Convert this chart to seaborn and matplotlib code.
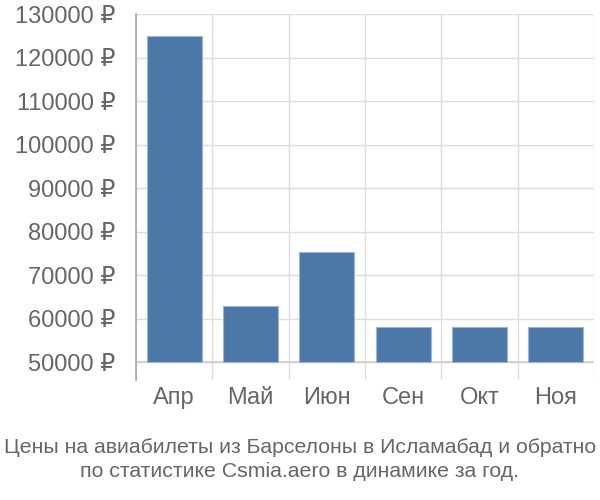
import matplotlib
matplotlib.use("Agg")
import matplotlib.pyplot as plt
import seaborn as sns
import pandas as pd
from matplotlib.ticker import FuncFormatter, FixedLocator

months = ["Апр", "Май", "Июн", "Сен", "Окт", "Ноя"]
prices = [125000, 63000, 75300, 58100, 58100, 58100]
yticks = [50000, 60000, 70000, 80000, 90000, 100000, 110000, 120000, 130000]
title = "Цены на авиабилеты из Барселоны в Исламабад и обратно\nпо статистике Csmia.aero в динамике за год."
base = 50000

sns.set_theme(style="white")
plt.rcParams['font.family'] = ['Liberation Sans', 'DejaVu Sans']

df = pd.DataFrame({"month": months, "price": prices})
fig = plt.figure(figsize=(6, 5), dpi=100)
ax = fig.add_axes([136/600, 1-380/500, (594-136)/600, (380-14)/500])
sns.barplot(data=df, x="month", y="price", color="#4c78a8", saturation=1,
            width=0.72, edgecolor="#9ab4d4", linewidth=0.8, ax=ax, zorder=3)
for p in ax.patches:
    h = p.get_y() + p.get_height()
    p.set_y(base)
    p.set_height(h - base)

ax.set_ylim(45900, 130000)
ax.set_xlim(-0.5, len(months) - 0.5)
ax.yaxis.set_major_locator(FixedLocator(yticks))
ax.yaxis.set_major_formatter(FuncFormatter(lambda v, p: f"{int(v)} ₽"))
ax.xaxis.set_minor_locator(FixedLocator([i - 0.5 for i in range(len(months) + 1)]))
ax.grid(axis="y", which="major", color="#dddddd", linewidth=1, zorder=0)
ax.grid(axis="x", which="minor", color="#dddddd", linewidth=1, zorder=0)
ax.axhline(base, color="#cccccc", linewidth=1.2, zorder=2)
ax.tick_params(axis="y", which="major", length=13, color="#dddddd", width=1,
               labelsize=17, labelcolor="#666666", pad=2)
ax.tick_params(axis="x", which="major", length=0, labelsize=17, labelcolor="#666666", pad=5)
ax.tick_params(axis="x", which="minor", length=0)
for s in ["top", "right", "bottom"]:
    ax.spines[s].set_visible(False)
ax.spines["left"].set_color("#aaaaaa")
ax.spines["left"].set_linewidth(1.2)
ax.set_xlabel("")
ax.set_ylabel("")

fig.text(0.5, 1-459.5/500, title, ha="center", va="center", fontsize=15.3,
         color="#666666", linespacing=1.38)
fig.savefig("out.png", dpi=100)
